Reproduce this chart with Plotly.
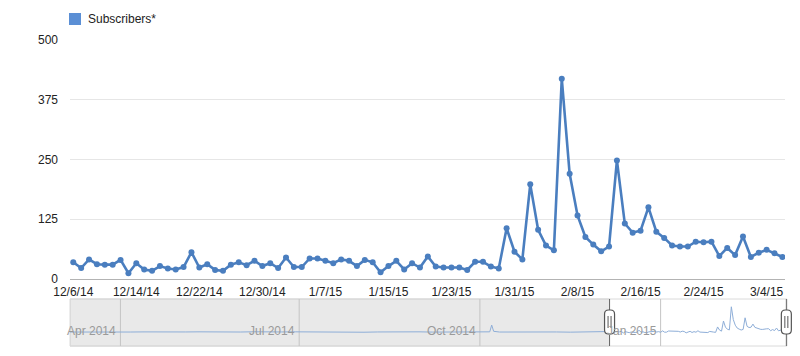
import pandas as pd
import plotly.graph_objects as go

# ---------------- data ----------------
start_date = "2014-12-06"
subscribers = [35, 23, 41, 31, 30, 30, 40, 12, 33, 20, 17, 27, 22, 20, 25,
               56, 24, 31, 19, 17, 30, 35, 29, 38, 27, 33, 23, 45, 25, 25,
               43, 43, 38, 33, 41, 38, 27, 40, 35, 14, 27, 38, 20, 33, 24,
               47, 26, 24, 24, 24, 19, 36, 36, 26, 22, 106, 57, 41, 198, 103,
               70, 60, 419, 220, 133, 88, 72, 58, 68, 248, 116, 97, 101, 150, 99,
               86, 70, 68, 68, 78, 77, 78, 48, 65, 50, 89, 46, 55, 61, 54, 46]
dates = pd.date_range(start_date, periods=len(subscribers), freq="D")

tick_labels = ["12/6/14", "12/14/14", "12/22/14", "12/30/14", "1/7/15", "1/15/15",
               "1/23/15", "1/31/15", "2/8/15", "2/16/15", "2/24/15", "3/4/15"]
tick_dates = pd.to_datetime(tick_labels, format="%m/%d/%y")

y_ticks = [0, 125, 250, 375, 500]

# earlier history shown only in the range-selector overview
overview_dates = ["2014-03-06", "2014-03-09", "2014-03-16", "2014-03-23", "2014-03-30",
                  "2014-04-06", "2014-04-13", "2014-04-20", "2014-04-27", "2014-05-04",
                  "2014-05-11", "2014-05-18", "2014-05-25", "2014-06-01", "2014-06-08",
                  "2014-06-15", "2014-06-22", "2014-06-29", "2014-07-06", "2014-07-13",
                  "2014-07-20", "2014-07-27", "2014-08-03", "2014-08-10", "2014-08-17",
                  "2014-08-24", "2014-08-31", "2014-09-07", "2014-09-14", "2014-09-21",
                  "2014-09-28", "2014-10-04", "2014-10-06", "2014-10-07", "2014-10-08",
                  "2014-10-11", "2014-10-19", "2014-10-26", "2014-11-02", "2014-11-09",
                  "2014-11-16", "2014-11-23", "2014-11-30", "2014-12-05"]
overview_values = [27, 28, 30, 26, 32, 27, 29, 25, 31, 28, 30, 26, 29, 27, 31,
                   25, 28, 30, 27, 33, 26, 29, 24, 28, 31, 27, 30, 26, 29, 32,
                   27, 28, 30, 135, 38, 27, 30, 26, 32, 28, 25, 30, 27, 33]

overview_range = ["2014-03-06 08:00", "2015-03-06 08:00"]
month_marks = ["2014-04-01", "2014-07-01", "2014-10-01", "2015-01-01"]
month_names = ["Apr 2014", "Jul 2014", "Oct 2014", "Jan 2015"]

# ---------------- layout helpers ----------------
W, H = 800, 356
ML, MR, MT, MB = 70, 13, 35, 9
PW, PH = W - ML - MR, H - MT - MB


def px(x):
    return (x - ML) / PW


def py(y):
    return (H - MB - y) / PH


LINE = "#4a7ebf"
FONT = "Liberation Sans, Arial, sans-serif"

fig = go.Figure()

fig.add_trace(go.Scatter(
    x=dates, y=subscribers, mode="lines+markers", name="Subscribers*",
    line=dict(color=LINE, width=2.6), marker=dict(color=LINE, size=6),
    showlegend=False, xaxis="x", yaxis="y"))

ov_x = list(pd.to_datetime(overview_dates)) + list(dates)
ov_y = overview_values + subscribers
fig.add_trace(go.Scatter(
    x=ov_x, y=ov_y, mode="lines", line=dict(color="#8eaed8", width=1),
    showlegend=False, hoverinfo="skip", xaxis="x2", yaxis="y2"))

shapes = []
annotations = []

# selector geometry
sel_top, sel_bot = 299, 346
ov_start = pd.Timestamp(overview_range[0])
ov_end = pd.Timestamp(overview_range[1])


def date_px(d):
    d = pd.Timestamp(d)
    return ML + (d - ov_start) / (ov_end - ov_start) * PW


# shaded (unselected) part
shapes.append(dict(type="rect", xref="x2", yref="paper", x0=overview_range[0], x1=start_date,
                   y0=py(sel_bot), y1=py(sel_top), fillcolor="#e9e9e9",
                   line=dict(color="#d0d0d0", width=1), layer="below"))
# outline of the whole selector
shapes.append(dict(type="rect", xref="paper", yref="paper", x0=0, x1=1,
                   y0=py(sel_bot), y1=py(sel_top), fillcolor="rgba(0,0,0,0)",
                   line=dict(color="#dadada", width=1), layer="below"))
# month lines + labels
for d, name in zip(month_marks, month_names):
    shapes.append(dict(type="line", xref="x2", yref="paper", x0=d, x1=d,
                       y0=py(sel_bot), y1=py(sel_top),
                       line=dict(color="#c4c4c4", width=1), layer="below"))
    annotations.append(dict(x=d, y=py(331), xref="x2", yref="paper", text=name,
                            showarrow=False, xanchor="right", yanchor="middle", xshift=-2,
                            font=dict(family=FONT, size=12, color="#9a9a9a")))

# handles
for d in [start_date, dates[-1]]:
    cx = date_px(d)
    shapes.append(dict(type="line", xref="paper", yref="paper", x0=px(cx), x1=px(cx),
                       y0=py(sel_bot), y1=py(sel_top), line=dict(color="#666", width=1)))
    x0, x1, y0, y1, r = cx - 5, cx + 5, 310, 334, 4
    pts = [(x0 + r, y0), (x1 - r, y0), ("Q", x1, y0, x1, y0 + r), (x1, y1 - r),
           ("Q", x1, y1, x1 - r, y1), (x0 + r, y1), ("Q", x0, y1, x0, y1 - r),
           (x0, y0 + r), ("Q", x0, y0, x0 + r, y0)]
    path = "M %f,%f" % (px(pts[0][0]), py(pts[0][1]))
    for p in pts[1:]:
        if p[0] == "Q":
            path += " Q %f,%f %f,%f" % (px(p[1]), py(p[2]), px(p[3]), py(p[4]))
        else:
            path += " L %f,%f" % (px(p[0]), py(p[1]))
    path += " Z"
    shapes.append(dict(type="path", xref="paper", yref="paper", path=path,
                       fillcolor="white", line=dict(color="#555", width=1.2)))
    for dx in (-1.5, 1.5):
        shapes.append(dict(type="line", xref="paper", yref="paper",
                           x0=px(cx + dx), x1=px(cx + dx), y0=py(316), y1=py(328),
                           line=dict(color="#555", width=1)))

# legend
shapes.append(dict(type="rect", xref="paper", yref="paper", x0=px(69), x1=px(81),
                   y0=py(25), y1=py(13), fillcolor="#5b8fd5", line=dict(width=0)))
annotations.append(dict(x=px(86), y=py(19), xref="paper", yref="paper", text="Subscribers*",
                        showarrow=False, xanchor="left", yanchor="middle",
                        font=dict(family=FONT, size=12, color="#222")))

fig.update_layout(
    width=W, height=H, margin=dict(l=ML, r=MR, t=MT, b=MB, autoexpand=False),
    paper_bgcolor="white", plot_bgcolor="white",
    font=dict(family=FONT, size=12, color="#222"),
    shapes=shapes, annotations=annotations,
    xaxis=dict(domain=[0, px(785)], anchor="y", type="date",
               range=["2014-12-05 14:00", "2015-03-06 08:00"],
               tickvals=tick_dates, ticktext=tick_labels, showgrid=False,
               showline=False, zeroline=False, ticks="", ticklabelstandoff=4,
               tickfont=dict(family=FONT, size=12, color="#222")),
    yaxis=dict(domain=[py(279), py(40)], anchor="x", range=[0, 500],
               tickvals=y_ticks, showgrid=True, gridcolor="#e6e6e6",
               zeroline=True, zerolinecolor="#b3b3b3", zerolinewidth=1,
               showline=False, ticks="", ticklabelstandoff=11,
               tickfont=dict(family=FONT, size=12, color="#222")),
    xaxis2=dict(domain=[0, 1], anchor="y2", type="date", range=overview_range,
                showgrid=False, showticklabels=False, zeroline=False, showline=False),
    yaxis2=dict(domain=[py(sel_bot), py(sel_top)], anchor="x2", range=[-190, 540],
                showgrid=False, showticklabels=False, zeroline=False, showline=False),
)

fig.write_html("out.html", config={"displayModeBar": False},
               post_script="document.body.style.margin='0';document.body.style.padding='0';")
